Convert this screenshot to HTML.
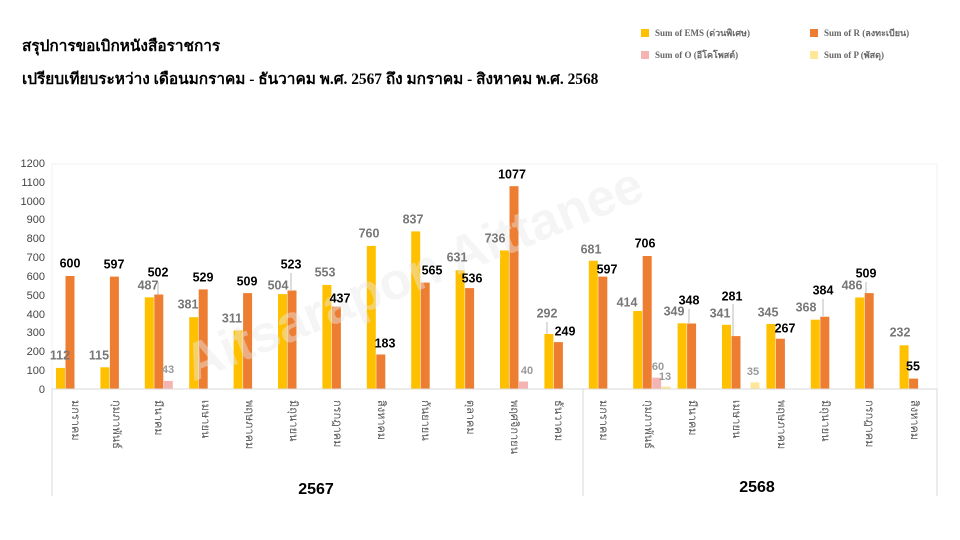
<!DOCTYPE html>
<html><head><meta charset="utf-8"><style>
body{margin:0;background:#fff;}
svg{display:block;font-family:"Liberation Sans","Noto Sans CJK SC",sans-serif;}
.t{font-family:"Liberation Serif","Noto Serif CJK SC",serif;font-weight:bold;font-size:15.4px;fill:#000}
.lg{font-family:"Liberation Serif",serif;font-weight:bold;font-size:9px;fill:#666}
.ya{font-size:11px;fill:#444;text-anchor:end}
.e{font-size:12.5px;fill:#777;font-weight:bold;text-anchor:middle;dominant-baseline:middle}
.r{font-size:12.5px;fill:#000;font-weight:bold;text-anchor:middle;dominant-baseline:middle}
.o{font-size:11px;fill:#999;font-weight:bold;text-anchor:middle;dominant-baseline:middle}
.c{font-size:11px;fill:#555}
.yr{font-size:16px;font-weight:bold;fill:#000;text-anchor:middle}
</style></head><body>
<svg width="960" height="540" viewBox="0 0 960 540">
<text class="t" x="22" y="51">สรุปการขอเบิกหนังสือราชการ</text>
<text class="t" x="22" y="84">เปรียบเทียบระหว่าง เดือนมกราคม - ธันวาคม พ.ศ. 2567 ถึง มกราคม - สิงหาคม พ.ศ. 2568</text>
<rect x="641" y="29" width="8" height="8" fill="#FFC000"/><text class="lg" x="655" y="36">Sum of EMS (ด่วนพิเศษ)</text>
<rect x="810" y="29" width="8" height="8" fill="#ED7D31"/><text class="lg" x="824" y="36">Sum of R (ลงทะเบียน)</text>
<rect x="641" y="51" width="8" height="8" fill="#F4B4B4"/><text class="lg" x="655" y="58">Sum of O (อีโคโพสต์)</text>
<rect x="810" y="51" width="8" height="8" fill="#FFE699"/><text class="lg" x="824" y="58">Sum of P (พัสดุ)</text>
<rect x="52" y="164" width="885" height="225" fill="none" stroke="#f0f0f0"/>
<g class="ya">
<text x="45" y="393">0</text><text x="45" y="374">100</text><text x="45" y="355">200</text><text x="45" y="336">300</text><text x="45" y="318">400</text><text x="45" y="299">500</text><text x="45" y="280">600</text><text x="45" y="261">700</text><text x="45" y="242">800</text><text x="45" y="223">900</text><text x="45" y="205">1000</text><text x="45" y="186">1100</text><text x="45" y="167">1200</text>
</g>
<g fill="#FFC000">
<rect x="56" y="367.9" width="9" height="21.1"/><rect x="100.4" y="367.3" width="9" height="21.7"/><rect x="144.8" y="297.3" width="9" height="91.7"/><rect x="189.2" y="317.2" width="9" height="71.8"/><rect x="233.6" y="330.4" width="9" height="58.6"/><rect x="278" y="294.1" width="9" height="94.9"/><rect x="322.4" y="284.9" width="9" height="104.1"/><rect x="366.8" y="245.9" width="9" height="143.1"/><rect x="411.2" y="231.4" width="9" height="157.6"/><rect x="455.6" y="270.2" width="9" height="118.8"/><rect x="500" y="250.4" width="9" height="138.6"/><rect x="544.4" y="334" width="9" height="55"/><rect x="588.8" y="260.7" width="9" height="128.3"/><rect x="633.2" y="311" width="9" height="78"/><rect x="677.6" y="323.3" width="9" height="65.7"/><rect x="722" y="324.8" width="9" height="64.2"/><rect x="766.4" y="324" width="9" height="65"/><rect x="810.8" y="319.7" width="9" height="69.3"/><rect x="855.2" y="297.5" width="9" height="91.5"/><rect x="899.6" y="345.3" width="9" height="43.7"/>
</g>
<g fill="#ED7D31">
<rect x="65.5" y="276" width="9" height="113"/><rect x="109.9" y="276.6" width="9" height="112.4"/><rect x="154.3" y="294.5" width="9" height="94.5"/><rect x="198.7" y="289.4" width="9" height="99.6"/><rect x="243.1" y="293.1" width="9" height="95.9"/><rect x="287.5" y="290.5" width="9" height="98.5"/><rect x="331.9" y="306.7" width="9" height="82.3"/><rect x="376.3" y="354.5" width="9" height="34.5"/><rect x="420.7" y="282.6" width="9" height="106.4"/><rect x="465.1" y="288.1" width="9" height="100.9"/><rect x="509.5" y="186.2" width="9" height="202.8"/><rect x="553.9" y="342.1" width="9" height="46.9"/><rect x="598.3" y="276.6" width="9" height="112.4"/><rect x="642.7" y="256" width="9" height="133"/><rect x="687.1" y="323.5" width="9" height="65.5"/><rect x="731.5" y="336.1" width="9" height="52.9"/><rect x="775.9" y="338.7" width="9" height="50.3"/><rect x="820.3" y="316.7" width="9" height="72.3"/><rect x="864.7" y="293.1" width="9" height="95.9"/><rect x="909.1" y="378.6" width="9" height="10.4"/>
</g>
<g fill="#F4B4B4"><rect x="163.8" y="380.9" width="9" height="8.1"/><rect x="519" y="381.5" width="9" height="7.5"/><rect x="652.2" y="377.7" width="9" height="11.3"/></g>
<g fill="#FFE699"><rect x="661.7" y="386.6" width="9" height="2.4"/><rect x="750.5" y="382.4" width="9" height="6.6"/></g>
<text x="420" y="290" transform="rotate(-22 420 290)" font-size="52" font-weight="bold" fill="#e8e8e8" fill-opacity="0.45" text-anchor="middle">Aitsarapon Aittanee</text>
<line x1="52" y1="389" x2="937" y2="389" stroke="#d9d9d9"/>
<g stroke="#aaa" stroke-width="0.8"><line x1="158" y1="282" x2="158" y2="295"/><line x1="291" y1="273" x2="291" y2="290"/><line x1="547" y1="322" x2="547" y2="334"/><line x1="689" y1="309" x2="689" y2="323"/><line x1="733" y1="304" x2="733" y2="336"/><line x1="823" y1="299" x2="823" y2="316"/><line x1="866" y1="282" x2="866" y2="293"/></g>
<g class="e">
<text x="60" y="356">112</text><text x="99" y="356">115</text><text x="148" y="286">487</text><text x="188" y="305">381</text><text x="232" y="319">311</text><text x="278" y="286">504</text><text x="325" y="273">553</text><text x="369" y="234">760</text><text x="413" y="220">837</text><text x="457" y="258">631</text><text x="495" y="239">736</text><text x="547" y="314">292</text><text x="591" y="250">681</text><text x="627" y="303">414</text><text x="674" y="312">349</text><text x="720" y="314">341</text><text x="768" y="313">345</text><text x="806" y="308">368</text><text x="852" y="286">486</text><text x="900" y="333">232</text>
</g>
<g class="r">
<text x="70" y="264">600</text><text x="114" y="265">597</text><text x="158" y="273">502</text><text x="203" y="278">529</text><text x="247" y="282">509</text><text x="291" y="265">523</text><text x="340" y="299">437</text><text x="385" y="344">183</text><text x="432" y="271">565</text><text x="472" y="279">536</text><text x="512" y="175">1077</text><text x="565" y="332">249</text><text x="607" y="270">597</text><text x="645" y="244">706</text><text x="689" y="301">348</text><text x="732" y="297">281</text><text x="785" y="329">267</text><text x="823" y="291">384</text><text x="866" y="274">509</text><text x="913" y="367">55</text>
</g>
<g class="o"><text x="168" y="370">43</text><text x="527" y="371">40</text><text x="658" y="367">60</text><text x="665" y="377">13</text><text x="753" y="372">35</text></g>
<g stroke="#d9d9d9"><line x1="52" y1="389" x2="52" y2="496"/><line x1="583" y1="389" x2="583" y2="496"/><line x1="937" y1="389" x2="937" y2="496"/></g>
<g class="c">
<text transform="translate(72,400) rotate(90)">มกราคม</text>
<text transform="translate(113,400) rotate(90)">กุมภาพันธ์</text>
<text transform="translate(155,400) rotate(90)">มีนาคม</text>
<text transform="translate(202,400) rotate(90)">เมษายน</text>
<text transform="translate(246,400) rotate(90)">พฤษภาคม</text>
<text transform="translate(290,400) rotate(90)">มิถุนายน</text>
<text transform="translate(334,400) rotate(90)">กรกฎาคม</text>
<text transform="translate(378,400) rotate(90)">สิงหาคม</text>
<text transform="translate(422,400) rotate(90)">กันยายน</text>
<text transform="translate(467,400) rotate(90)">ตุลาคม</text>
<text transform="translate(511,400) rotate(90)">พฤศจิกายน</text>
<text transform="translate(555,400) rotate(90)">ธันวาคม</text>
<text transform="translate(600,400) rotate(90)">มกราคม</text>
<text transform="translate(645,400) rotate(90)">กุมภาพันธ์</text>
<text transform="translate(689,400) rotate(90)">มีนาคม</text>
<text transform="translate(733,400) rotate(90)">เมษายน</text>
<text transform="translate(778,400) rotate(90)">พฤษภาคม</text>
<text transform="translate(822,400) rotate(90)">มิถุนายน</text>
<text transform="translate(866,400) rotate(90)">กรกฎาคม</text>
<text transform="translate(911,400) rotate(90)">สิงหาคม</text>
</g>
<text class="yr" x="316" y="494">2567</text>
<text class="yr" x="757" y="492">2568</text>
</svg>
</body></html>
